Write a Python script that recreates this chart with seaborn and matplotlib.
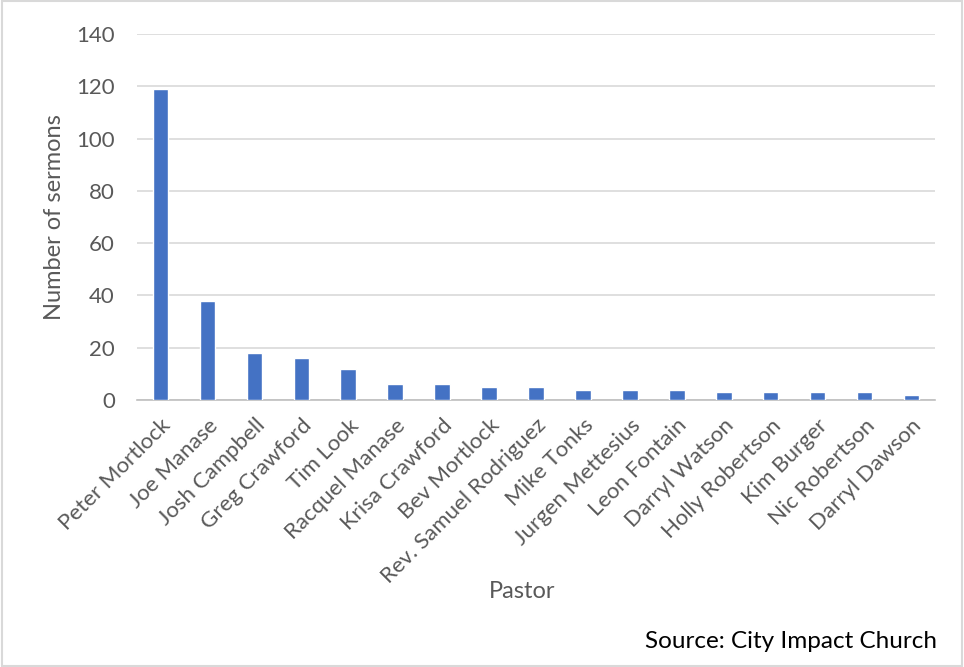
import matplotlib
matplotlib.use("Agg")
import matplotlib.pyplot as plt
import seaborn as sns
import pandas as pd
import numpy as np
from matplotlib.patches import Rectangle

pastors = ["Peter Mortlock", "Joe Manase", "Josh Campbell", "Greg Crawford", "Tim Look",
           "Racquel Manase", "Krisa Crawford", "Bev Mortlock", "Rev. Samuel Rodriguez",
           "Mike Tonks", "Jurgen Mettesius", "Leon Fontain", "Darryl Watson",
           "Holly Robertson", "Kim Burger", "Nic Robertson", "Darryl Dawson"]
sermons = [119, 38, 18, 16, 12, 6, 6, 5, 5, 4, 4, 4, 3, 3, 3, 3, 2]
yticks = [0, 20, 40, 60, 80, 100, 120, 140]

sns.set_theme(style="white")
plt.rcParams['font.family'] = ['Lato', 'DejaVu Sans']

df = pd.DataFrame({"Pastor": pastors, "Sermons": sermons})

fig = plt.figure(figsize=(9.64, 6.67), dpi=100)
ax = fig.add_axes([137/964, 1-400/667, (935-137)/964, (400-34)/667])
sns.barplot(data=df, x="Pastor", y="Sermons", color="#4472C4", width=0.33,
            saturation=1, ax=ax, zorder=3)

ax.set_ylim(0, 140)
ax.set_xlim(-0.5, len(pastors)-0.5)
ax.set_yticks(yticks)
ax.set_yticklabels([str(v) for v in yticks], fontsize=16, color="#595959")
ax.yaxis.grid(True, color="#D9D9D9", linewidth=1.2, zorder=0)
ax.set_axisbelow(True)

ax.set_xticks(range(len(pastors)))
ax.set_xticklabels(pastors, rotation=45, ha="right", rotation_mode="anchor",
                   fontsize=16, color="#595959")
ax.set_xticks(np.arange(-0.5, len(pastors), 1.0), minor=True)
ax.tick_params(axis="x", which="major", length=0, pad=11)
ax.tick_params(axis="x", which="minor", length=7, color="#BFBFBF", width=1.2, direction="out")
ax.tick_params(axis="y", length=0, pad=16)

for s in ["left", "right", "top"]:
    ax.spines[s].set_visible(False)
ax.spines["bottom"].set_color("#BFBFBF")
ax.spines["bottom"].set_linewidth(1.2)

ax.set_xlabel("")
ax.set_ylabel("")
fig.text(55/964, 1-217/667, "Number of sermons", fontsize=17, color="#595959",
         rotation=90, ha="center", va="center")
fig.text(522/964, 1-592/667, "Pastor", fontsize=17, color="#595959", ha="center", va="center")
fig.text(937/964, 1-641/667, "Source: City Impact Church", fontsize=17.5, color="#000000",
         ha="right", va="center")

fig.patches.append(Rectangle((0.002, 0.002), 0.996, 0.996, transform=fig.transFigure,
                             fill=False, edgecolor="#D9D9D9", linewidth=1.5))

fig.savefig("out.png", dpi=100)
